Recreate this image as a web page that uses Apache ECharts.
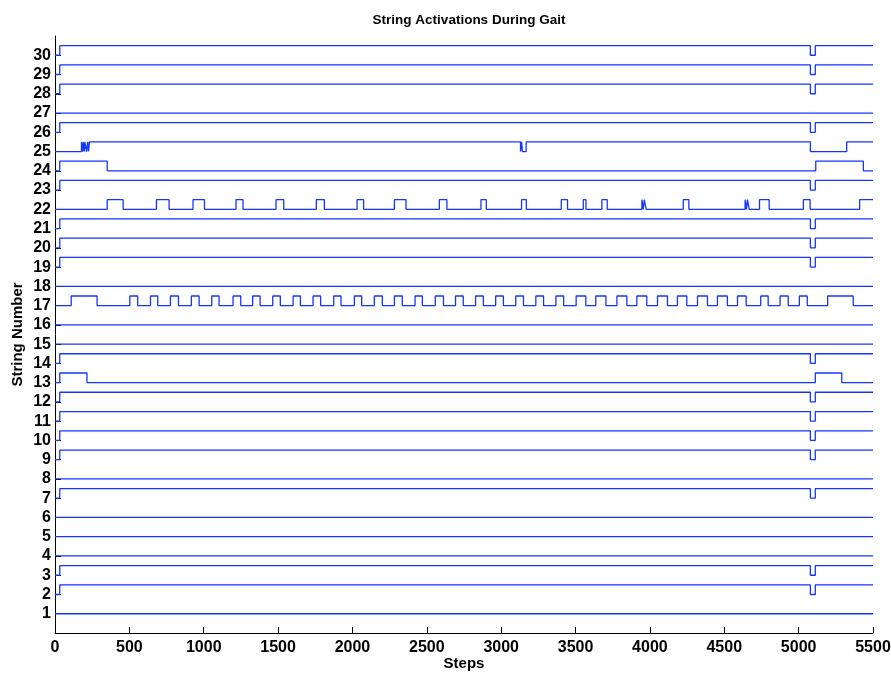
<!DOCTYPE html>
<html>
<head>
<meta charset="utf-8">
<script src="https://cdn.jsdelivr.net/npm/echarts@6/dist/echarts.min.js"></script>
<style>
  html, body { margin: 0; padding: 0; background: #fff; }
  #container { width: 891px; height: 673px; }
</style>
</head>
<body>
<div id="container"></div>
<script>
// x range / ticks
var xTicks = [0, 500, 1000, 1500, 2000, 2500, 3000, 3500, 4000, 4500, 5000, 5500];
var yTicks = [1, 2, 3, 4, 5, 6, 7, 8, 9, 10, 11, 12, 13, 14, 15,
  16, 17, 18, 19, 20, 21, 22, 23, 24, 25, 26, 27, 28, 29, 30];
var lastStep = 5500;

// strings that never switch on
var flatStrings = [1, 4, 5, 6, 8, 15, 16, 18, 27];
// strings that switch on near the start and drop out briefly near 5100
var dipStrings = [2, 3, 7, 9, 10, 11, 12, 14, 19, 20, 21, 23, 26, 28, 29, 30];
var dipEdges = [32, 5079, 5112];

// every string starts off; each edge toggles the state
var s13Edges = [32, 215, 5112, 5290];
var s17Edges = [109, 283, 503, 556, 642, 691, 776, 830, 917, 969, 1054, 1103,
  1197, 1249, 1329, 1379, 1464, 1515, 1601, 1650, 1735, 1786, 1874, 1923,
  2013, 2062, 2147, 2201, 2282, 2335, 2421, 2470, 2557, 2612, 2693, 2745,
  2828, 2880, 2963, 3015, 3098, 3150, 3233, 3285, 3368, 3420, 3504, 3569,
  3636, 3704, 3778, 3845, 3912, 3979, 4051, 4118, 4185, 4248, 4320, 4387,
  4454, 4521, 4589, 4647, 4745, 4795, 4875, 4930, 5005, 5058, 5195, 5367];
var s22Edges = [351, 458, 682, 767, 928, 1005, 1217, 1264, 1486, 1538, 1757, 1811,
  2031, 2075, 2282, 2360, 2584, 2635, 2864, 2900, 3137, 3169, 3404, 3446,
  3552, 3570, 3677, 3713, 3946, 3955, 3962, 3975, 4224, 4262, 4640, 4649,
  4656, 4668, 4737, 4802, 5032, 5077, 5410];
var s24Edges = [32, 351, 5115, 5435];
var s25Edges = [178, 186, 190, 197, 201, 212, 220, 225, 232, 3130, 3137, 3143, 3168, 5079, 5323];

var edgesByString = {13: s13Edges, 17: s17Edges, 22: s22Edges, 24: s24Edges, 25: s25Edges};
dipStrings.forEach(function (s) { edgesByString[s] = dipEdges; });
flatStrings.forEach(function (s) { edgesByString[s] = []; });

// turn a toggle list into a square wave for string n
function wave(n, edges) {
  var on = false;
  var pts = [[0, n]];
  for (var i = 0; i < edges.length; i++) {
    pts.push([edges[i], on ? n + 0.5 : n]);
    on = !on;
    pts.push([edges[i], on ? n + 0.5 : n]);
  }
  pts.push([lastStep, on ? n + 0.5 : n]);
  return pts;
}

var series = [];
for (var n = 1; n <= 30; n++) {
  series.push({
    name: 'String ' + n,
    type: 'line',
    data: wave(n, edgesByString[n]),
    showSymbol: false,
    symbol: 'none',
    silent: true,
    lineStyle: { color: '#1436ff', width: 1.3 }
  });
}

var myChart = echarts.init(document.getElementById('container'));
var font = 'Liberation Sans, Arial, sans-serif';
var option = {
  animation: false,
  title: {
    text: 'String Activations During Gait',
    left: 464,
    textAlign: 'center',
    top: 8,
    textStyle: { fontFamily: font, fontSize: 13.5, fontWeight: 'bold', color: '#000' }
  },
  grid: { left: 55, right: 18, top: 36, bottom: 40, outerBoundsMode: 'none', containLabel: false },
  xAxis: {
    type: 'value',
    min: 0,
    max: lastStep,
    interval: 500,
    name: 'Steps',
    nameLocation: 'middle',
    nameGap: 23,
    nameMoveOverlap: false,
    nameTextStyle: { fontFamily: font, fontSize: 15, fontWeight: 'bold', color: '#000' },
    axisLine: { lineStyle: { color: '#000', width: 1 } },
    axisTick: { inside: true, length: 6, lineStyle: { color: '#000' } },
    axisLabel: {
      margin: 7,
      fontFamily: font, fontSize: 16, fontWeight: 'bold', color: '#000',
      formatter: function (v) { return xTicks.indexOf(v) >= 0 ? String(v) : ''; }
    },
    splitLine: { show: false }
  },
  yAxis: {
    type: 'value',
    min: 0,
    max: 31,
    interval: 1,
    name: 'String Number',
    nameLocation: 'middle',
    nameGap: 30,
    nameMoveOverlap: false,
    nameTextStyle: { fontFamily: font, fontSize: 15, fontWeight: 'bold', color: '#000' },
    axisLine: { show: true, lineStyle: { color: '#000', width: 1 } },
    axisTick: { show: true, inside: true, length: 6, customValues: yTicks, lineStyle: { color: '#000' } },
    axisLabel: {
      margin: 4,
      customValues: yTicks,
      fontFamily: font, fontSize: 16, fontWeight: 'bold', color: '#000'
    },
    splitLine: { show: false }
  },
  series: series
};
myChart.setOption(option);
</script>
</body>
</html>
